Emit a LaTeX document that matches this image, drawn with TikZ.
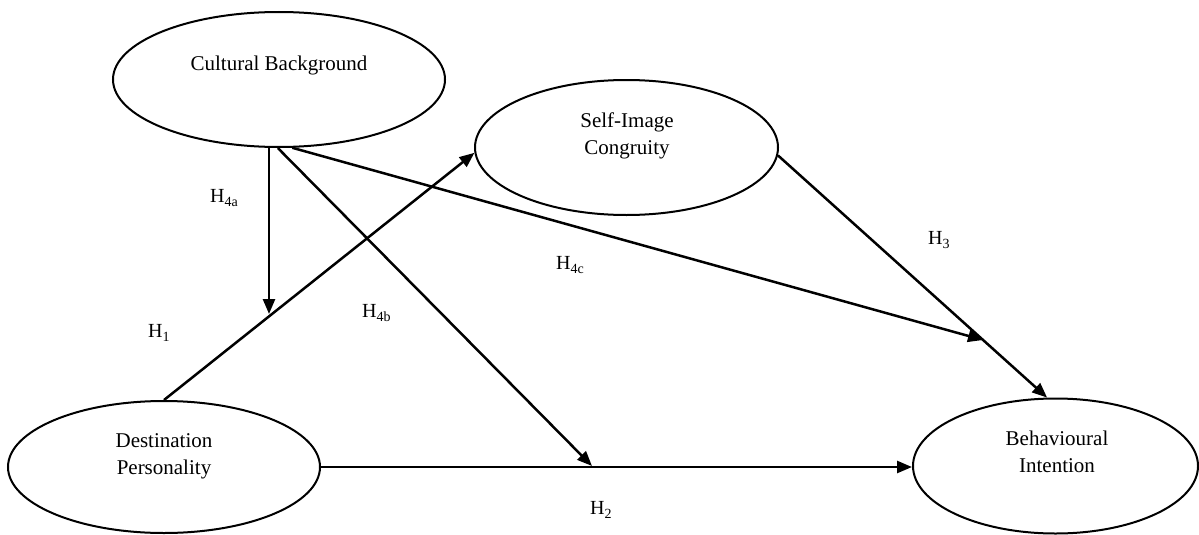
\documentclass[tikz,border=0pt]{standalone}
\usepackage{fontspec}
\setmainfont{Liberation Serif}
\usetikzlibrary{arrows.meta,shapes.geometric}
\begin{document}
\begin{tikzpicture}[x=1pt,y=-1pt,
  construct/.style={draw,ellipse,line width=2pt,inner sep=0pt},
  ctext/.style={align=center,font=\fontsize{21}{27}\selectfont,inner sep=0pt},
  hlabel/.style={anchor=west,font=\fontsize{20}{24}\selectfont,inner sep=0pt},
  conn/.style={line width=2.5pt,-{Triangle[length=15pt,width=12pt]}}]
\useasboundingbox (0,0) rectangle (1199,535);
% constructs
\node[construct,minimum width=332pt,minimum height=135pt] (cb) at (279,79.5) {};
\node[construct,minimum width=303pt,minimum height=135pt] (sic) at (626.5,147.5) {};
\node[construct,minimum width=312pt,minimum height=132pt] (dp) at (164,467) {};
\node[construct,minimum width=285pt,minimum height=135pt] (bi) at (1055.5,466) {};
% construct texts
\node[ctext] (cbt) at (279,65) {Cultural Background};
\node[ctext] (sict) at (627,136) {Self-Image\\Congruity};
\node[ctext] (dpt) at (164,456) {Destination\\Personality};
\node[ctext] (bit) at (1057,452) {Behavioural\\Intention};
% free ends on other paths
\coordinate (h4aend) at (269,314);
\coordinate (h4bend) at (592,466);
\coordinate (h4cend) at (983,340);
% connectors
\draw[conn] (dp.north) -- (sic.182);
\draw[conn] (h4aend |- cb.south) -- (h4aend);
\draw[conn] (cb.269) -- (h4bend);
\draw[conn] (cb.281) -- (h4cend);
\draw[conn] (sic.357) -- (bi.97);
\draw[conn] (dp.east) -- (dp.east -| bi.west);
% hypothesis labels
\node[hlabel] (l4a) at (210,198) {H\textsubscript{4a}};
\node[hlabel] (l1) at (148,333) {H\textsubscript{1}};
\node[hlabel] (l4b) at (362,313) {H\textsubscript{4b}};
\node[hlabel] (l4c) at (556,265) {H\textsubscript{4c}};
\node[hlabel] (l3) at (928,240) {H\textsubscript{3}};
\node[hlabel] (l2) at (590,510) {H\textsubscript{2}};
\end{tikzpicture}
\end{document}
